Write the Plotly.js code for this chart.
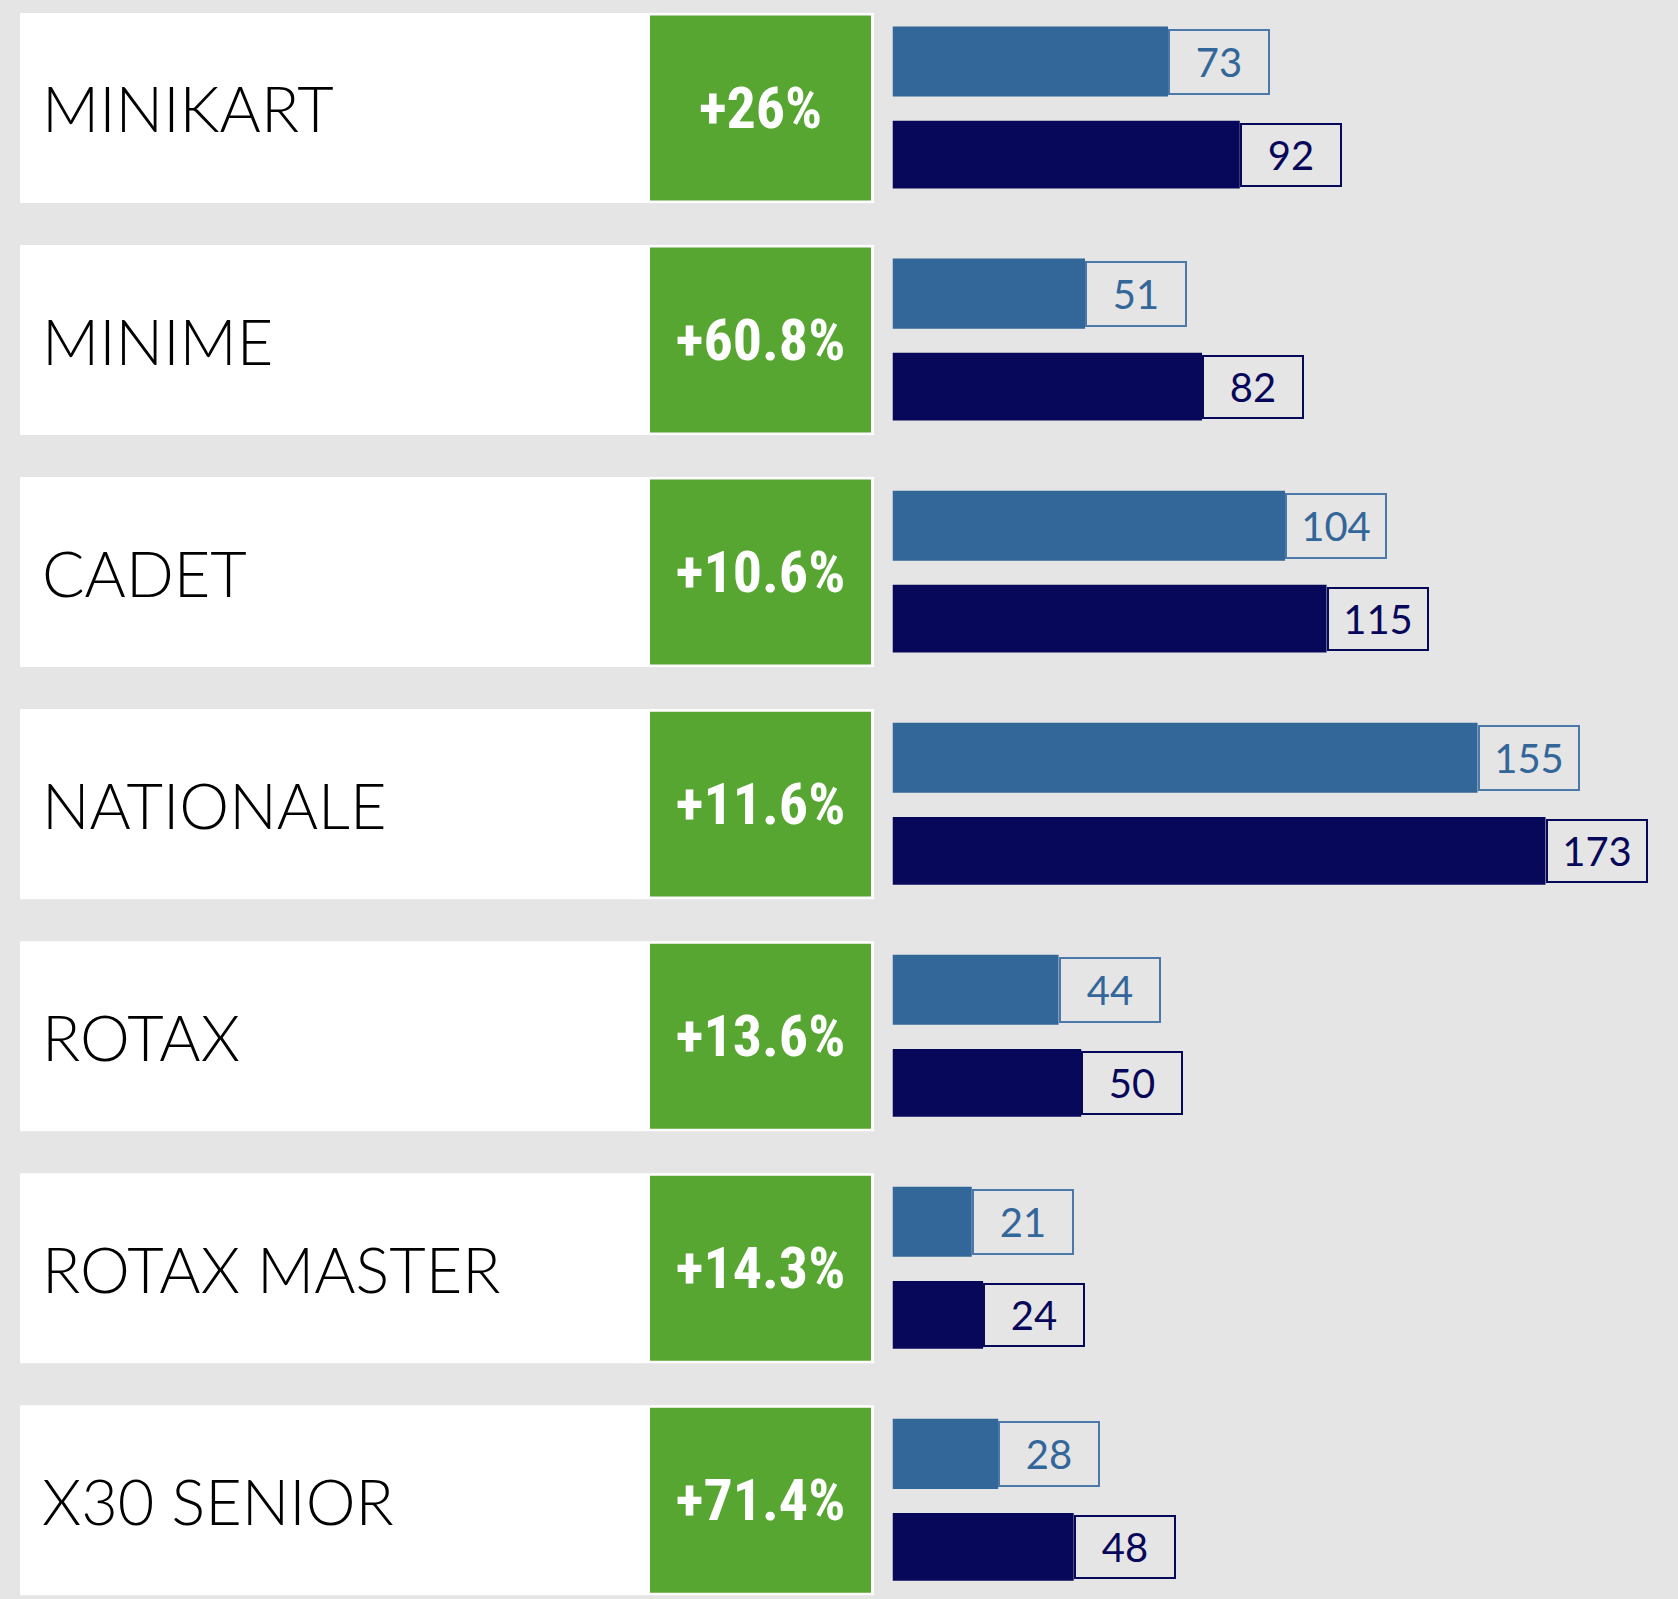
<!DOCTYPE html>
<html>
<head>
<meta charset="utf-8">
<script src="https://cdn.plot.ly/plotly-3.0.1.min.js"></script>
<style>
  html, body { margin: 0; padding: 0; background: #e5e5e5; }
  #chart { width: 1678px; height: 1599px; }
</style>
</head>
<body>
<div id="chart"></div>
<script>
const categories = ['MINIKART', 'MINIME', 'CADET', 'NATIONALE', 'ROTAX', 'ROTAX MASTER', 'X30 SENIOR'];
const previousValues = [73, 51, 104, 155, 44, 21, 28];
const currentValues = [92, 82, 115, 173, 50, 24, 48];
const growthLabels = ['+26%', '+60.8%', '+10.6%', '+11.6%', '+13.6%', '+14.3%', '+71.4%'];

const W = 1678, H = 1599;
const LIGHT = '#336699', DARK = '#08085a', GREEN = '#57a632', BG = '#e5e5e5';

const full = categories.map(() => 1);

const panelTrace = {
  type: 'bar', orientation: 'h', y: categories, x: full, base: 0,
  xaxis: 'x2', yaxis: 'y', width: 0.819,
  marker: { color: '#ffffff', line: { width: 0 } },
  hoverinfo: 'skip', showlegend: false
};
const growthTrace = {
  type: 'bar', orientation: 'h', y: categories, x: full, base: 0,
  xaxis: 'x3', yaxis: 'y', width: 0.797,
  marker: { color: GREEN, line: { width: 0 } },
  text: growthLabels, textposition: 'inside', insidetextanchor: 'middle', textangle: 0,
  constraintext: 'none',
  textfont: { family: 'Roboto Condensed, Liberation Sans Narrow, Arial Narrow, sans-serif', size: 58, color: '#ffffff', weight: 700 },
  hoverinfo: 'skip', showlegend: false
};
const prevTrace = {
  type: 'bar', orientation: 'h', y: categories, x: previousValues,
  xaxis: 'x', yaxis: 'y', width: 0.302, offset: -0.351,
  marker: { color: LIGHT, line: { width: 0 } },
  hoverinfo: 'skip', showlegend: false
};
const currTrace = {
  type: 'bar', orientation: 'h', y: categories, x: currentValues,
  xaxis: 'x', yaxis: 'y', width: 0.292, offset: 0.055,
  marker: { color: DARK, line: { width: 0 } },
  hoverinfo: 'skip', showlegend: false
};

const annotations = [];
categories.forEach((c, i) => {
  annotations.push({
    xref: 'paper', yref: 'y', x: 40 / W, y: c, xanchor: 'left', yanchor: 'middle',
    text: c, showarrow: false,
    font: { family: 'Lato, Open Sans, sans-serif', size: 63, color: '#000000', weight: 300 }
  });
  annotations.push({
    xref: 'x', yref: 'y', x: previousValues[i], y: c, xanchor: 'left', yanchor: 'middle',
    yshift: 46.4, text: String(previousValues[i]), showarrow: false,
    width: 98, height: 62, borderwidth: 2, borderpad: 0, bordercolor: '#4a78a8',
    align: 'center', valign: 'middle',
    font: { family: 'Lato, Open Sans, sans-serif', size: 40, color: LIGHT }
  });
  annotations.push({
    xref: 'x', yref: 'y', x: currentValues[i], y: c, xanchor: 'left', yanchor: 'middle',
    yshift: -46.6, text: String(currentValues[i]), showarrow: false,
    width: 98, height: 60, borderwidth: 2, borderpad: 0, bordercolor: DARK,
    align: 'center', valign: 'middle',
    font: { family: 'Lato, Open Sans, sans-serif', size: 40, color: DARK }
  });
});

const hidden = { showgrid: false, zeroline: false, showticklabels: false, showline: false, ticks: '', fixedrange: true };

const layout = {
  width: W, height: H,
  margin: { l: 0, r: 0, t: 0, b: 0, pad: 0 },
  paper_bgcolor: BG, plot_bgcolor: 'rgba(0,0,0,0)',
  barmode: 'overlay', showlegend: false,
  xaxis: Object.assign({}, hidden, { domain: [892.5 / W, 1], range: [0, 208.1], anchor: 'y' }),
  xaxis2: Object.assign({}, hidden, { domain: [20 / W, 874 / W], range: [0, 1], anchor: 'y' }),
  xaxis3: Object.assign({}, hidden, { domain: [650 / W, 871 / W], range: [0, 1], anchor: 'y' }),
  yaxis: Object.assign({}, hidden, { type: 'category', categoryorder: 'array', categoryarray: categories, range: [6.4255, -0.4654] }),
  annotations: annotations
};

Plotly.newPlot('chart', [panelTrace, growthTrace, prevTrace, currTrace], layout, { staticPlot: true, displayModeBar: false });
</script>
</body>
</html>
